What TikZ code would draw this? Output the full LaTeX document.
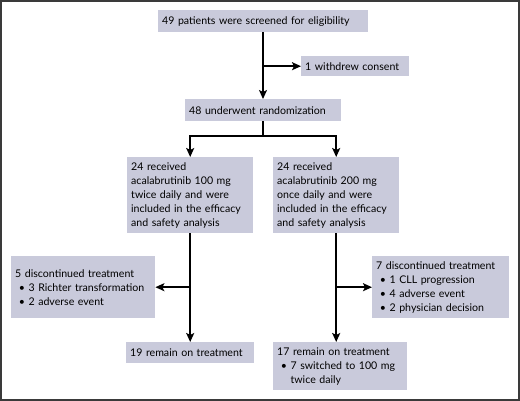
\documentclass[tikz,border=0pt]{standalone}
\usepackage{fontspec}
\setmainfont{Lato}
\usepackage{tikz}
\usetikzlibrary{positioning, arrows.meta}
\usepackage{xcolor}

\definecolor{boxfill}{HTML}{C9CADB}
\definecolor{framegray}{HTML}{3A3A3A}

\hyphenpenalty=10000
\newcommand{\bul}{\hspace*{0.35em}\textbullet\ }
\newcommand{\bulgap}{\hspace*{0.35em}\phantom{\textbullet\ }}

\begin{document}
\begin{tikzpicture}[x=1pt, y=-1pt, >={Stealth[length=9pt, width=8pt, inset=2pt]},
    every box/.style={fill=boxfill, anchor=north west, align=left,
      inner xsep=4pt, inner ysep=3pt, font=\fontsize{10.6}{14}\selectfont},
    flow/.style={line width=1.6pt, black}]
  \useasboundingbox (0,0) rectangle (520,401);
  \draw [framegray, line width=2pt] (1,1) rectangle (519,400);

  % Boxes
  \node [every box/.try, text width=202pt, minimum height=22pt] (screen) at (158,10)
    {49 patients were screened for eligibility};
  \node [every box/.try, text width=100pt, minimum height=20pt] (withdrew) at (301,56)
    {1 withdrew consent};
  \node [every box/.try, text width=148pt, minimum height=22pt] (random) at (185,99)
    {48 underwent randomization};

  \foreach \d/\f [count=\i] in {100 mg/twice, 200 mg/once}
    \node [every box/.try, text width=118pt, minimum height=76pt] (arm-\i) at (127+146*\i-146,157)
      {24 received\\ acalabrutinib \d\\ \f\ daily and were\\ included in the efficacy\\ and safety analysis};

  \node [every box/.try, text width=136pt, minimum height=62pt] (stop-1) at (11,256)
    {5 discontinued treatment\\ \bul 3 Richter transformation\\ \bul 2 adverse event};
  \node [every box/.try, text width=129pt, minimum height=62pt] (stop-2) at (372,256)
    {7 discontinued treatment\\ \bul 1 CLL progression\\ \bul 4 adverse event\\ \bul 2 physician decision};

  \node [every box/.try, text width=120pt, minimum height=21pt] (remain-1) at (126,342)
    {19 remain on treatment};
  \node [every box/.try, text width=126pt, minimum height=48pt] (remain-2) at (273,342)
    {17 remain on treatment\\ \bul 7 switched to 100 mg\\ \bulgap twice daily};

  % Connectors
  \coordinate (split) at (263,136);
  \draw [flow, ->] (screen.south -| split) -- (random.north -| split);
  \draw [flow, ->] (withdrew.west -| split) -- (withdrew.west);
  \draw [flow] (random.south -| split) -- (split);
  \foreach \i in {1,2} {
    \draw [flow, ->] (split) -| (arm-\i.north);
    \draw [flow, ->] (arm-\i.south) -- (remain-\i.north -| arm-\i.south);
  }
  \draw [flow, ->] (stop-1.east -| arm-1.south) -- (stop-1.east);
  \draw [flow, ->] (stop-2.west -| arm-2.south) -- (stop-2.west);
\end{tikzpicture}
\end{document}
